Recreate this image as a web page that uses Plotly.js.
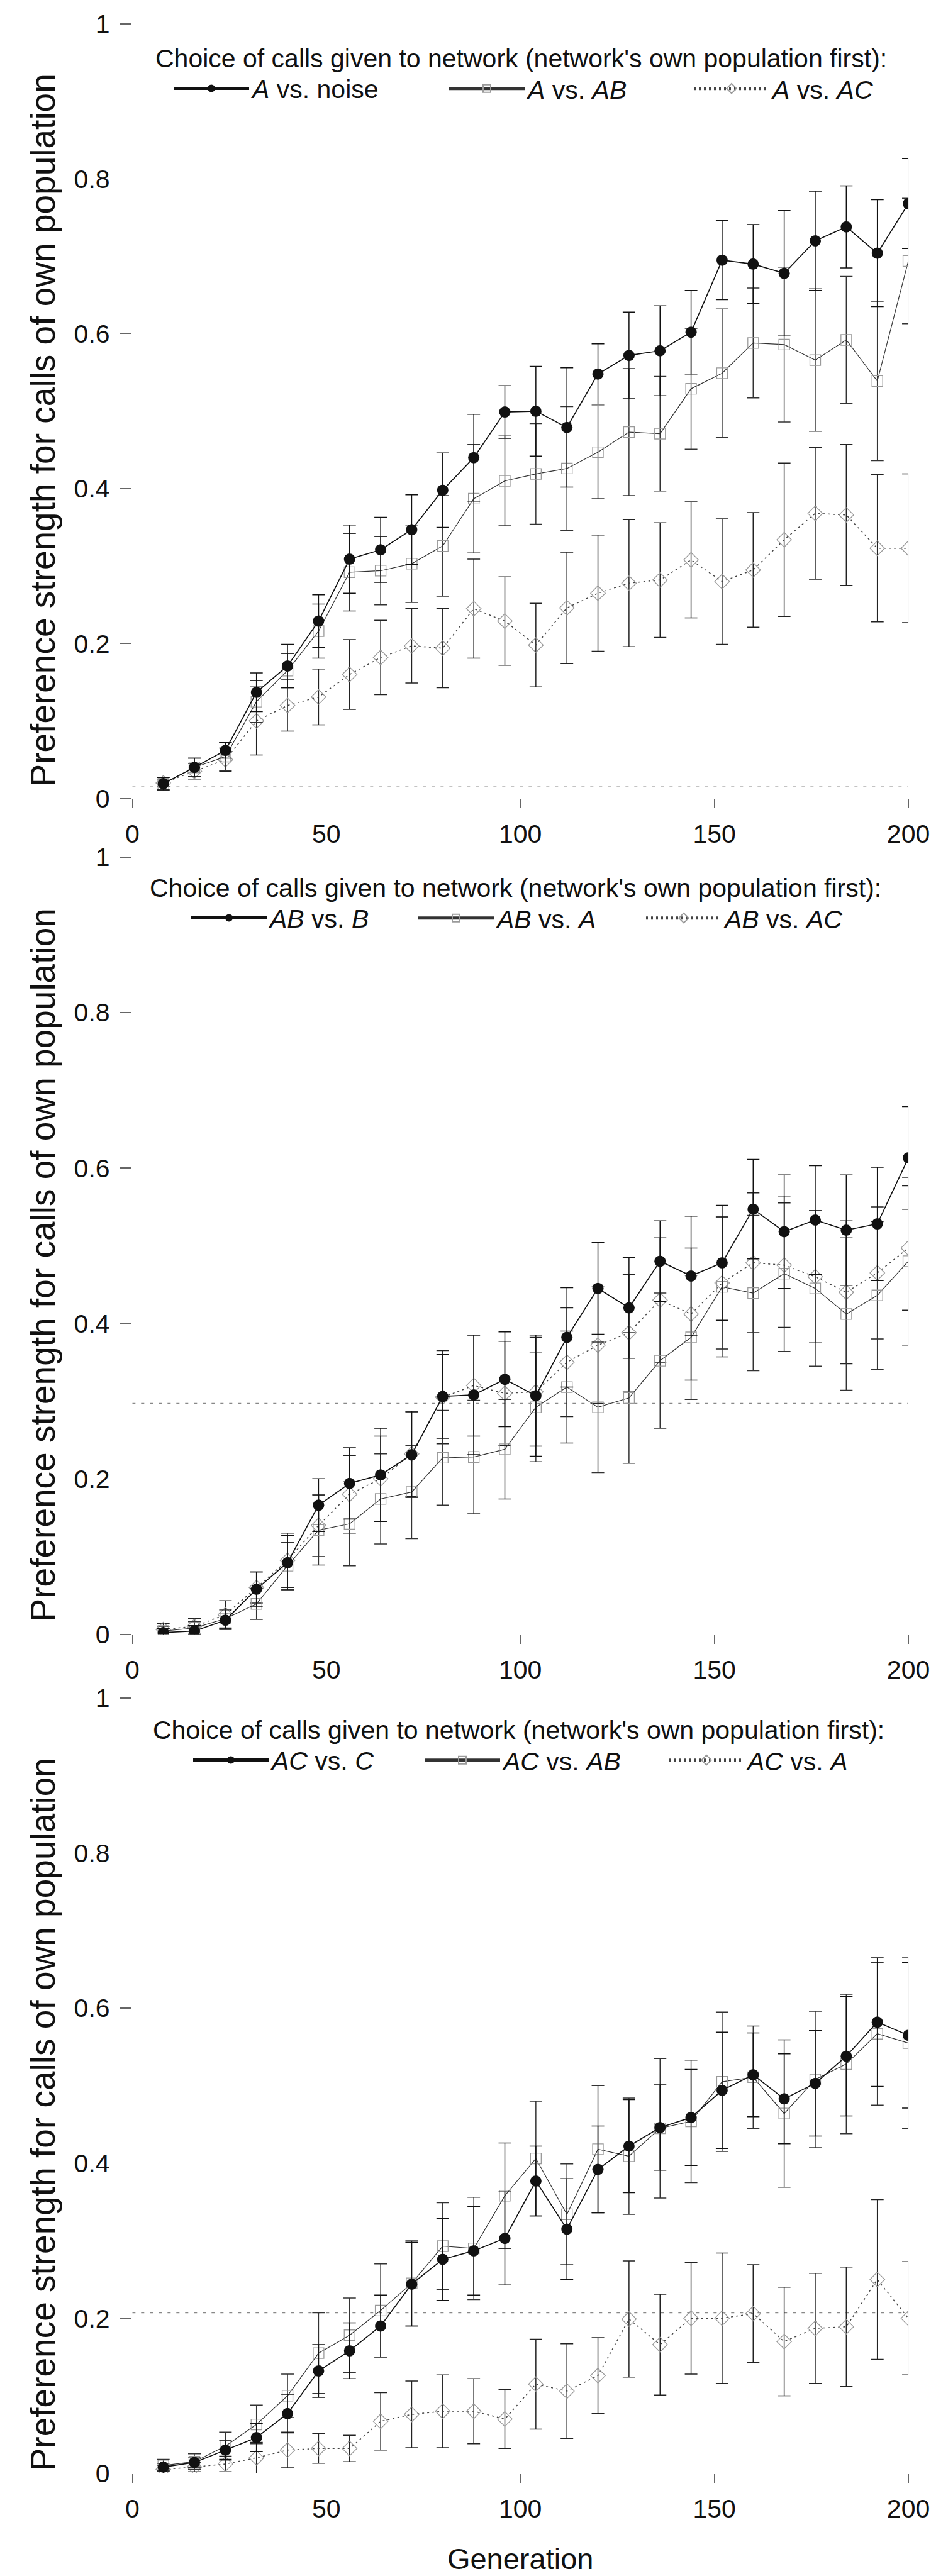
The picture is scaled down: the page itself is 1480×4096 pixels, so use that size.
<!DOCTYPE html>
<html>
<head>
<meta charset="utf-8">
<script src="https://cdn.plot.ly/plotly-3.0.1.min.js"></script>
<style>html,body{margin:0;padding:0;background:#fff}#chart{width:1480px;height:4096px}</style>
</head>
<body>
<div id="chart"></div>
<script>
// ---------- data ----------
const generations = [8,16,24,32,40,48,56,64,72,80,88,96,104,112,120,128,136,144,152,160,168,176,184,192,200];

const yTickVals = [0,0.2,0.4,0.6,0.8,1];
const yTickText = ['0','0.2','0.4','0.6','0.8','1'];
const xTickVals = [0,50,100,150,200];
const xTickText = ['0','50','100','150','200'];

const legendTitle = "Choice of calls given to network (network's own population first):";
const yTitle = 'Preference strength for calls of own population';
const xTitle = 'Generation';

// Panel 1
const names1 = ['<i>A</i> vs. noise', '<i>A</i> vs. <i>AB</i>', '<i>A</i> vs. <i>AC</i>'];
const p1s1 = [0.019,0.040,0.062,0.137,0.171,0.229,0.309,0.321,0.347,0.398,0.440,0.499,0.500,0.479,0.548,0.572,0.578,0.602,0.695,0.690,0.678,0.720,0.738,0.704,0.768];
const p1e1 = [0.008,0.012,0.010,0.025,0.028,0.034,0.044,0.042,0.045,0.048,0.056,0.034,0.058,0.077,0.039,0.056,0.058,0.054,0.051,0.051,0.081,0.064,0.053,0.069,0.058];
const p1s2 = [0.019,0.040,0.054,0.125,0.165,0.216,0.292,0.294,0.303,0.326,0.387,0.410,0.419,0.426,0.447,0.473,0.471,0.529,0.549,0.588,0.586,0.566,0.592,0.539,0.694];
const p1e2 = [0.008,0.012,0.018,0.027,0.022,0.035,0.050,0.044,0.050,0.065,0.070,0.058,0.065,0.080,0.060,0.082,0.074,0.078,0.083,0.071,0.100,0.092,0.082,0.103,0.081];
const p1s3 = [0.020,0.035,0.050,0.100,0.120,0.131,0.160,0.182,0.197,0.194,0.245,0.229,0.198,0.246,0.265,0.278,0.282,0.308,0.280,0.295,0.334,0.368,0.366,0.323,0.323];
const p1e3 = [0.005,0.010,0.015,0.044,0.033,0.036,0.045,0.048,0.048,0.051,0.064,0.057,0.054,0.072,0.075,0.082,0.074,0.075,0.081,0.074,0.099,0.085,0.091,0.095,0.096];
const p1ref = [0.016, 0.016];

// Panel 2
const names2 = ['<i>AB</i> vs. <i>B</i>', '<i>AB</i> vs. <i>A</i>', '<i>AB</i> vs. <i>AC</i>'];
const p2s1 = [0.002,0.004,0.018,0.058,0.092,0.166,0.194,0.205,0.231,0.306,0.308,0.328,0.307,0.382,0.445,0.420,0.480,0.461,0.478,0.547,0.518,0.533,0.520,0.528,0.613];
const p2e1 = [0.005,0.007,0.012,0.022,0.035,0.034,0.046,0.060,0.055,0.054,0.077,0.061,0.078,0.064,0.059,0.065,0.052,0.077,0.074,0.064,0.073,0.070,0.071,0.073,0.066];
const p2s2 = [0.004,0.008,0.020,0.039,0.088,0.134,0.142,0.174,0.183,0.227,0.228,0.238,0.292,0.318,0.292,0.304,0.352,0.382,0.447,0.439,0.464,0.445,0.412,0.436,0.480];
const p2e2 = [0.006,0.008,0.012,0.020,0.030,0.045,0.054,0.058,0.060,0.061,0.073,0.064,0.070,0.072,0.084,0.084,0.087,0.080,0.090,0.100,0.100,0.100,0.098,0.095,0.108];
const p2s3 = [0.006,0.010,0.025,0.060,0.095,0.140,0.180,0.200,0.232,0.305,0.320,0.310,0.312,0.350,0.372,0.388,0.430,0.412,0.452,0.478,0.475,0.460,0.440,0.465,0.497];
const p2e3 = [0.008,0.010,0.018,0.020,0.035,0.040,0.050,0.055,0.055,0.060,0.065,0.067,0.070,0.070,0.075,0.075,0.080,0.085,0.085,0.090,0.080,0.085,0.092,0.085,0.080];
const p2ref = [0.297, 0.297];

// Panel 3
const names3 = ['<i>AC</i> vs. <i>C</i>', '<i>AC</i> vs. <i>AB</i>', '<i>AC</i> vs. <i>A</i>'];
const p3s1 = [0.008,0.014,0.030,0.046,0.077,0.132,0.158,0.190,0.244,0.276,0.287,0.303,0.377,0.315,0.392,0.422,0.446,0.459,0.494,0.514,0.483,0.503,0.538,0.582,0.565];
const p3e1 = [0.005,0.007,0.012,0.018,0.025,0.034,0.036,0.040,0.054,0.053,0.057,0.060,0.045,0.065,0.056,0.060,0.055,0.062,0.075,0.054,0.058,0.068,0.077,0.083,0.094];
const p3s2 = [0.010,0.015,0.035,0.063,0.100,0.155,0.178,0.210,0.245,0.293,0.290,0.358,0.406,0.334,0.418,0.409,0.445,0.454,0.505,0.511,0.464,0.508,0.528,0.567,0.555];
const p3e2 = [0.008,0.010,0.018,0.025,0.028,0.052,0.048,0.060,0.055,0.056,0.066,0.068,0.074,0.065,0.082,0.075,0.090,0.079,0.090,0.066,0.095,0.088,0.090,0.092,0.110];
const p3s3 = [0.005,0.008,0.012,0.020,0.030,0.032,0.032,0.067,0.076,0.080,0.080,0.070,0.115,0.106,0.126,0.199,0.166,0.200,0.200,0.206,0.170,0.187,0.189,0.250,0.200];
const p3e3 = [0.005,0.006,0.010,0.020,0.023,0.019,0.017,0.037,0.043,0.047,0.042,0.038,0.058,0.061,0.049,0.075,0.065,0.072,0.084,0.063,0.070,0.071,0.077,0.103,0.073];
const p3ref = [0.207, 0.207];

const refX = [0, 200];

// ---------- styles ----------
const FONT = 'Liberation Sans, Arial, Helvetica, sans-serif';
const INK = '#111';
const NB = '\u00a0';
const ZW = '\u200b';

function seriesTraces(k, names, ys, errs, ref) {
  const xa = k === 1 ? 'x' : 'x' + k;
  const ya = k === 1 ? 'y' : 'y' + k;
  const styles = [
    {line:{color:'#111', width:1.7},
     marker:{symbol:'circle', size:18, color:'#111', line:{width:0}}, err:'#111', z:3},
    {line:{color:'#333', width:1.2},
     marker:{symbol:'square-open', size:17, color:'#9a9a9a', line:{width:1.3}}, err:'#333', z:2},
    {line:{color:'#444', width:1.5, dash:'3px,5px'},
     marker:{symbol:'diamond-open', size:18, color:'#9a9a9a', line:{width:1.3}}, err:'#222', z:1}
  ];
  const out = [];
  out.push({
    x: refX, y: ref, xaxis: xa, yaxis: ya, mode:'lines', showlegend:false, hoverinfo:'skip',
    line:{color:'#888', width:1.6, dash:'5px,9px'}
  });
  for (let i = 0; i < 3; i++) {
    const s = styles[i];
    const legendNum = (k - 1) * 3 + i + 1;
    out.push({
      x: generations, y: ys[i], xaxis: xa, yaxis: ya, name: names[i],
      legend: legendNum === 1 ? 'legend' : 'legend' + legendNum,
      type:'scatter', mode:'lines+markers', line: s.line, marker: s.marker, cliponaxis:false, zorder: s.z,
      error_y:{type:'data', array: errs[i], visible:true, color: s.err, thickness:1.5, width:10}
    });
  }
  return out;
}

const data = [].concat(
  seriesTraces(1, names1, [p1s1,p1s2,p1s3], [p1e1,p1e2,p1e3], p1ref),
  seriesTraces(2, names2, [p2s1,p2s2,p2s3], [p2e1,p2e2,p2e3], p2ref),
  seriesTraces(3, names3, [p3s1,p3s2,p3s3], [p3e1,p3e2,p3e3], p3ref)
);

const XDOM = [0.1421, 0.9757];
const YDOMS = [[0.69006, 0.99070], [0.36562, 0.66724], [0.03987, 0.34082]];
const TITLE_PAD = [4, 4, 6];

function xAxis(k, withTitle) {
  const a = {
    domain: XDOM, range:[0,200], anchor: k === 1 ? 'y' : 'y' + k,
    tickvals: xTickVals, ticktext: xTickText, ticks:'outside', ticklen:14, tickwidth:1.5, tickcolor:'#666',
    showline:true, linecolor:'#666', linewidth:1.5, showgrid:false, zeroline:false,
    tickfont:{family:FONT, size:41, color:INK}, ticklabelstandoff:6, automargin:false
  };
  if (withTitle) a.title = {text: xTitle, font:{family:FONT, size:47, color:INK}, standoff: 40};
  return a;
}
function yAxis(k) {
  return {
    domain: YDOMS[k-1], range:[0,1], anchor: k === 1 ? 'x' : 'x' + k,
    tickvals: yTickVals, ticktext: yTickText, ticks:'outside', ticklen:18, tickwidth:1.5, tickcolor:'#666',
    showline:true, linecolor:'#666', linewidth:1.5, showgrid:false, zeroline:false,
    tickfont:{family:FONT, size:41, color:INK}, ticklabelstandoff:8, automargin:false,
    title:{text: yTitle + NB.repeat(TITLE_PAD[k-1]) + ZW, font:{family:FONT, size:55, color:INK}, standoff: 12}
  };
}
// one legend box per entry so each entry sits where the reference puts it
function legendBox(leftPx, topPx, indent, withTitle) {
  const L = {
    x: leftPx/1480, xanchor:'left', y: 1 - topPx/4096, yanchor:'top',
    orientation:'h', bgcolor:'rgba(0,0,0,0)', borderwidth:0,
    font:{family:FONT, size:41, color:INK},
    itemwidth: 120, itemsizing:'constant', indentation: indent
  };
  if (withTitle) L.title = {text: legendTitle, side:'top', font:{family:FONT, size:41, color:INK}};
  return L;
}
// [title-left, legend top, entry line starts]
const legendPlaces = [
  [245, 54,   [276, 714, 1103]],
  [236, 1373, [304, 665, 1027]],
  [241, 2712, [307, 675, 1063]]
];

const layout = {
  width:1480, height:4096, margin:{l:0,r:0,t:0,b:0, autoexpand:false},
  paper_bgcolor:'#fff', plot_bgcolor:'#fff',
  font:{family:FONT, color:INK},
  showlegend:true,
  xaxis: xAxis(1,false), yaxis: yAxis(1),
  xaxis2: xAxis(2,false), yaxis2: yAxis(2),
  xaxis3: xAxis(3,true), yaxis3: yAxis(3)
};
legendPlaces.forEach(function(p, k) {
  const left = p[0], top = p[1], lines = p[2];
  for (let i = 0; i < 3; i++) {
    const n = k * 3 + i + 1;
    const key = n === 1 ? 'legend' : 'legend' + n;
    if (i === 0) layout[key] = legendBox(left, top, lines[0] - 5 - left, true);
    else layout[key] = legendBox(lines[i] - 5, top + 53.5, 0, false);
  }
});

Plotly.newPlot('chart', data, layout, {staticPlot:true, displayModeBar:false});
</script>
</body>
</html>
